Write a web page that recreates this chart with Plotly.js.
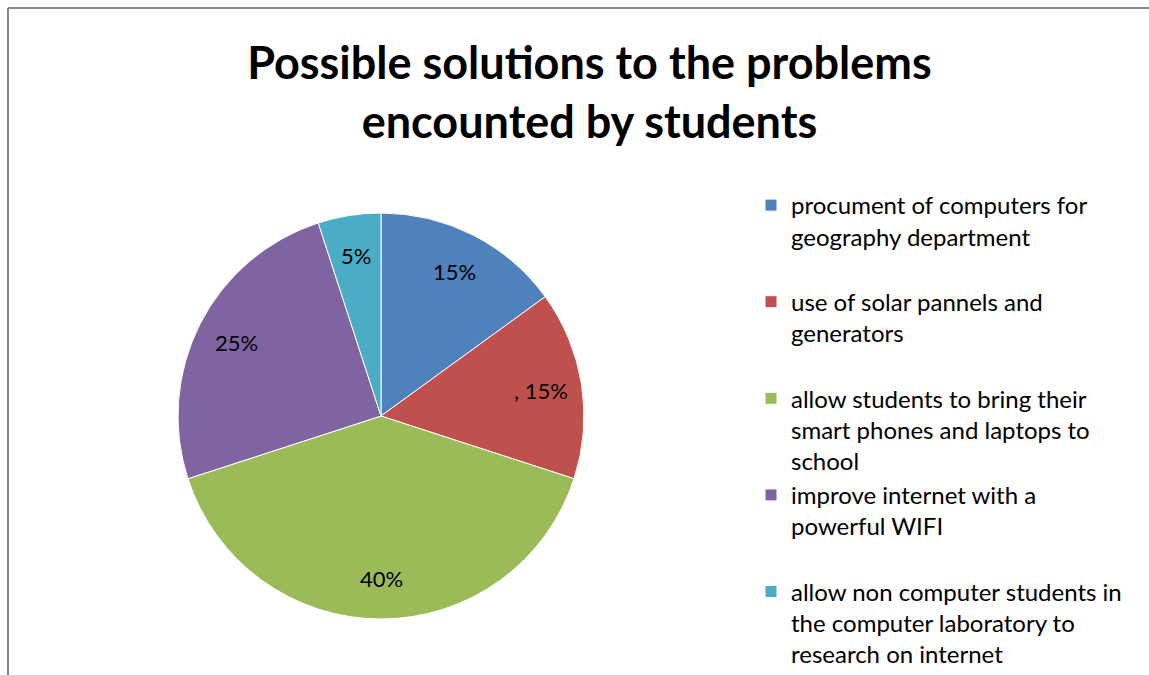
<!DOCTYPE html>
<html>
<head>
<meta charset="utf-8">
<script src="https://cdn.plot.ly/plotly-3.0.1.min.js"></script>
<style>html,body{margin:0;padding:0;background:#fff;}#chart{width:1149px;height:675px;}</style>
</head>
<body>
<div id="chart"></div>
<script>
const categories = [
  "procument of computers for<br>geography department<br> ",
  "use of solar pannels and<br>generators<br> ",
  "allow students to bring their<br>smart phones and laptops to<br>school",
  "improve internet with a<br>powerful WIFI<br> ",
  "allow non computer students in<br>the computer laboratory to<br>research on internet"
];
const values = [15, 15, 40, 25, 5];
const valueLabels = ["15%", ", 15%", "40%", "25%", "5%"];
const colors = ["#4F81BD", "#C0504D", "#9BBB59", "#8064A2", "#4BACC6"];

const W = 1149, H = 675;
const cx = 381, cy = 416, r = 203;
const labelRadius = 0.8;

const trace = {
  type: "pie",
  labels: categories,
  values: values,
  textinfo: "none",
  sort: false,
  direction: "clockwise",
  rotation: 0,
  marker: {colors: colors, line: {color: "#ffffff", width: 1}},
  domain: {x: [(cx - r) / W, (cx + r) / W], y: [1 - (cy + r) / H, 1 - (cy - r) / H]},
  hoverinfo: "label+percent"
};

// data labels placed along each slice's bisector, derived from the values
const total = values.reduce((a, b) => a + b, 0);
let cum = 0;
const labelAnnotations = values.map((v, i) => {
  const mid = (cum + v / 2) / total * 2 * Math.PI;
  cum += v;
  const px = cx + labelRadius * r * Math.sin(mid);
  const py = cy - labelRadius * r * Math.cos(mid);
  return {
    xref: "paper", yref: "paper",
    x: px / W, y: 1 - py / H,
    xanchor: "center", yanchor: "middle",
    text: valueLabels[i], showarrow: false,
    font: {family: "Lato, Carlito, Calibri, sans-serif", size: 22, color: "#000"}
  };
});

const layout = {
  width: W, height: H,
  margin: {l: 0, r: 0, t: 0, b: 0, autoexpand: false},
  paper_bgcolor: "#fff",
  title: {
    text: "<b>Possible solutions to the problems<br>encounted by students</b>",
    font: {family: "Lato, Carlito, Calibri, sans-serif", size: 45, color: "#000"},
    x: 0.513, xanchor: "center",
    y: 1 - 79 / H, yanchor: "top"
  },
  showlegend: true,
  legend: {
    x: 751 / W, xanchor: "left",
    y: 1 - 183 / H, yanchor: "top",
    valign: "top",
    font: {family: "Lato, Carlito, Calibri, sans-serif", size: 24, color: "#000"},
    bgcolor: "rgba(0,0,0,0)",
    traceorder: "normal"
  },
  annotations: labelAnnotations,
  shapes: [
    {type: "line", xref: "paper", yref: "paper", x0: 8 / W, x1: 8 / W, y0: 1 - 8 / H, y1: 0, line: {color: "#888", width: 2}},
    {type: "line", xref: "paper", yref: "paper", x0: 8 / W, x1: 1, y0: 1 - 8 / H, y1: 1 - 8 / H, line: {color: "#888", width: 2}}
  ]
};

Plotly.newPlot("chart", [trace], layout, {displayModeBar: false, staticPlot: true});
</script>
</body>
</html>
